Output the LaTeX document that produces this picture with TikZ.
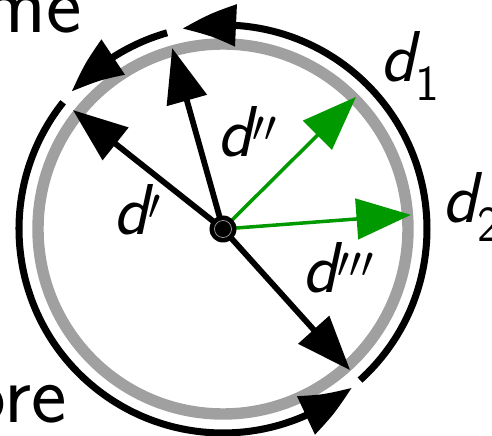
\documentclass[tikz,border=0pt]{standalone}
\usetikzlibrary{arrows.meta,bending}
\definecolor{ringgray}{RGB}{160,160,160}
\definecolor{vecgreen}{RGB}{0,153,0}
\newcommand{\timeArc}[2]{%
    \draw[timearc] (#1:4.08) arc[start angle=#1, end angle=#2, radius=4.08];
}

\begin{document}
\begin{tikzpicture}[font=\sffamily,
    tip/.style={-{Triangle[length=31pt,width=23pt]}},
    vec/.style={tip, line width=3.3pt},
    gvec/.style={tip, vecgreen, line width=2pt},
    timearc/.style={-{Triangle[length=31pt,width=23pt,bend]}, line width=4pt},
    lbl/.style={anchor=base west, inner sep=0pt, font=\fontsize{41}{41}\selectfont\sffamily\itshape},
    word/.style={anchor=base east, inner sep=0pt, font=\fontsize{48}{48}\selectfont\sffamily}]

    \useasboundingbox (-4.46,-4.14) rectangle (5.38,4.58);

    % --- centre and tips on the ring ---
    \coordinate (o) at (0,0);
    \coordinate (tp) at (141.6:3.83);
    \coordinate (tpp) at (105.7:3.76);
    \coordinate (tppp) at (-48:3.80);
    \coordinate (t1) at (44.8:3.75);
    \coordinate (t2) at (4.3:3.77);

    % --- ring ---
    \draw[ringgray, line width=6.5pt] (o) circle (3.70);

    % --- outer arcs ---
    \timeArc{-47.8}{101.5}
    \timeArc{105.9}{137.8}
    \timeArc{141.6}{309.1}

    % --- vectors ---
    \draw[vec] (o) -- (tp);
    \draw[vec] (o) -- (tpp);
    \draw[vec] (o) -- (tppp);
    \draw[gvec] (o) -- (t1);
    \draw[gvec] (o) -- (t2);

    \fill (o) circle (0.27);
    \draw[ringgray, line width=0.4pt] (o) circle (0.17);

    % --- labels ---
    \node[lbl] (ldp) at (-2.2,-0.12) {d$'$};
    \node[lbl] (ldpp) at (-0.12,1.44) {d$''$};
    \node[lbl] (ldppp) at (1.58,-1.28) {d$'''$};
    \node[lbl] (ld1) at (3.14,2.94) {d\textsubscript{\upshape 1}};
    \node[lbl] (ld2) at (4.38,0.12) {d\textsubscript{\upshape 2}};

    \node[word] (wtop) at (-2.82,3.92) {me};
    \node[word] (wbot) at (-3.12,-3.86) {ore};

\end{tikzpicture}
\end{document}
